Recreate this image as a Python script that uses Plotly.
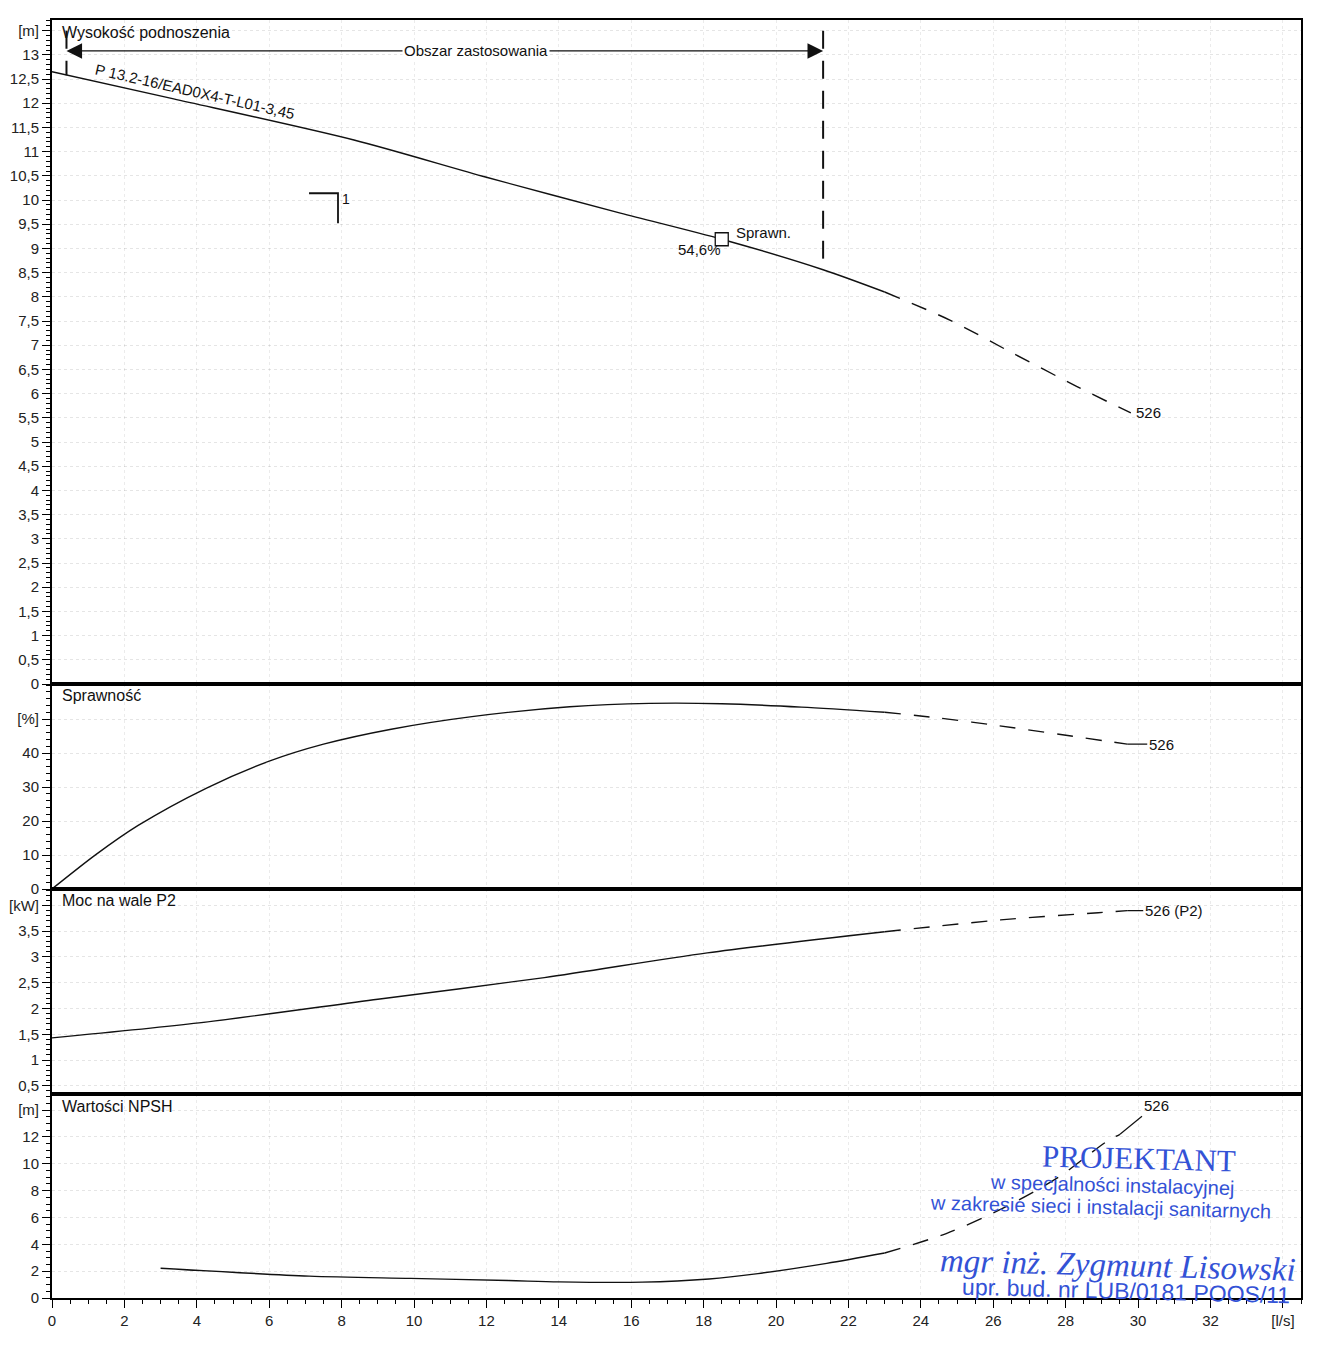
import plotly.graph_objects as go
from plotly.subplots import make_subplots

# ---------------- data ----------------
# Head curve  (Q [l/s], H [m])
q_head = [0.0, 3.36, 8.34, 12.0, 15.7, 18.5, 21.3, 23.0, 24.8, 26.5, 28.3, 29.8]
h_head = [12.65, 12.09, 11.24, 10.47, 9.73, 9.19, 8.56, 8.10, 7.52, 6.85, 6.15, 5.60]

# Efficiency curve (Q, %)
q_eff = [0.0, 1.21, 2.38, 4.27, 6.0, 7.5, 9.37, 11.6, 14.3, 16.5, 18.5, 20.7, 23.0, 24.5, 25.9, 29.7]
eff = [0.0, 10.1, 18.7, 29.7, 37.6, 42.6, 47.0, 50.7, 53.6, 54.6, 54.5, 53.5, 52.0, 50.3, 48.4, 42.6]

# Shaft power P2 (Q, kW)
q_pow = [0.0, 4.06, 9.0, 13.6, 18.1, 23.0, 26.2, 28.9, 29.7]
p2 = [1.43, 1.72, 2.18, 2.60, 3.08, 3.49, 3.72, 3.86, 3.90]

# NPSH (Q, m)
q_npsh = [3.0, 7.1, 9.9, 12.6, 14.0, 16.3, 18.15, 19.5, 21.4, 23.0, 24.7, 26.2, 27.8, 29.1, 29.5]
npsh = [2.22, 1.63, 1.46, 1.30, 1.20, 1.18, 1.42, 1.82, 2.58, 3.35, 4.8, 6.6, 9.0, 11.6, 12.2]

q_solid_end = 23.0            # curves are solid up to here, dashed beyond
app_limit_q = [0.4, 21.3]     # "Obszar zastosowania" limits
app_limit_h = [12.58, 8.56]   # head at the limits
app_top_h = 13.5
app_arrow_h = 13.08
bep_q, bep_h, bep_eff = 18.5, 9.19, 54.6
duty_q, duty_h = 7.9, 10.14
curve_name = "526"
pump_label = "P 13.2-16/EAD0X4-T-L01-3,45"

# ticks
def fmt(v):
    return f"{v:g}".replace(".", ",")

head_tickvals = [i * 0.5 for i in range(27)] + [13.5]
head_ticktext = [fmt(v) for v in head_tickvals[:-1]] + ["[m]"]
eff_tickvals = [0, 10, 20, 30, 40, 50]
eff_ticktext = ["0", "10", "20", "30", "40", "[%]"]
pow_tickvals = [0.5, 1, 1.5, 2, 2.5, 3, 3.5, 4]
pow_ticktext = ["0,5", "1", "1,5", "2", "2,5", "3", "3,5", "[kW]"]
npsh_tickvals = [0, 2, 4, 6, 8, 10, 12, 14]
npsh_ticktext = ["0", "2", "4", "6", "8", "10", "12", "[m]"]
x_tickvals = list(range(0, 34, 2)) + [34]
x_ticktext = [str(v) for v in range(0, 34, 2)] + ["[l/s]"]

titles = ["Wysokość podnoszenia", "Sprawność", "Moc na wale P2", "Wartości NPSH"]

# ---------------- figure ----------------
# page has an 8px body margin, so the figure is drawn 8px right/down
W, H = 1320, 1338
ML, MR, MT, MB = 44, 27, 12, 48
PLOT_LEFT_PAGE, PLOT_BOTTOM_PAGE = 52, 1298
PLOT_W, PLOT_H = W - ML - MR, H - MT - MB
FONT = "Liberation Sans, Arial, sans-serif"
INK = "#111111"

fig = make_subplots(rows=4, cols=1, shared_xaxes=True, vertical_spacing=0,
                    row_heights=[664, 205, 205, 204])


def split(q, v):
    s = [(a, b) for a, b in zip(q, v) if a <= q_solid_end]
    d = [(a, b) for a, b in zip(q, v) if a >= q_solid_end]
    return s, d


for row, (q, v) in enumerate([(q_head, h_head), (q_eff, eff), (q_pow, p2), (q_npsh, npsh)], start=1):
    s, d = split(q, v)
    fig.add_trace(go.Scatter(x=[a for a, _ in s], y=[b for _, b in s], mode="lines",
                             line=dict(color=INK, width=1.4, shape="spline", smoothing=0.8),
                             showlegend=False, hoverinfo="skip"), row=row, col=1)
    fig.add_trace(go.Scatter(x=[a for a, _ in d], y=[b for _, b in d], mode="lines",
                             line=dict(color=INK, width=1.4, shape="spline", smoothing=0.8,
                                       dash="16px,13px"),
                             showlegend=False, hoverinfo="skip"), row=row, col=1)

# application-range limit lines
for qv, hv in zip(app_limit_q, app_limit_h):
    fig.add_trace(go.Scatter(x=[qv, qv], y=[app_top_h, hv], mode="lines",
                             line=dict(color=INK, width=2, dash="18px,12px"),
                             showlegend=False, hoverinfo="skip"), row=1, col=1)

# duty point marker "1"
fig.add_trace(go.Scatter(x=[duty_q - 0.8, duty_q, duty_q], y=[duty_h, duty_h, duty_h - 0.62],
                         mode="lines", line=dict(color=INK, width=1.8),
                         showlegend=False, hoverinfo="skip"), row=1, col=1)

# BEP square
fig.add_trace(go.Scatter(x=[bep_q], y=[bep_h], mode="markers",
                         marker=dict(symbol="square", size=13, color="white",
                                     line=dict(color=INK, width=1.3)),
                         showlegend=False, hoverinfo="skip"), row=1, col=1)

ranges = [[0, 13.72], [0, 60.3], [0.34, 4.32], [0, 15.2]]
ticks = [(head_tickvals, head_ticktext, 0.1), (eff_tickvals, eff_ticktext, 2),
         (pow_tickvals, pow_ticktext, 0.1), (npsh_tickvals, npsh_ticktext, 0.5)]
for row in range(1, 5):
    tv, tt, mdt = ticks[row - 1]
    fig.update_yaxes(row=row, col=1, range=ranges[row - 1], tickmode="array",
                     tickvals=tv, ticktext=tt, ticks="outside", ticklen=8, tickwidth=1.2,
                     tickcolor="black", showline=True, mirror=True, linecolor="black",
                     linewidth=2, showgrid=True, gridcolor="rgba(0,0,0,0.10)",
                     griddash="dot", zeroline=False, automargin=False,
                     tickfont=dict(family=FONT, size=15, color="#222"),
                     minor=dict(dtick=mdt, tick0=0, ticks="outside", ticklen=4,
                                tickcolor="black", tickwidth=1, showgrid=False))
    fig.update_xaxes(row=row, col=1, range=[0, 34.5], showline=True, mirror=True,
                     linecolor="black", linewidth=2, zeroline=False, automargin=False,
                     showgrid=True, gridcolor="rgba(0,0,0,0.08)", griddash="dot",
                     tickmode="array", tickvals=x_tickvals, ticktext=x_ticktext,
                     ticks="outside" if row == 4 else "", showticklabels=(row == 4),
                     ticklen=8, tickwidth=1.2, tickcolor="black",
                     tickfont=dict(family=FONT, size=15, color="#222"),
                     minor=dict(dtick=0.5, tick0=0, ticks="outside" if row == 4 else "",
                                ticklen=4, tickcolor="black", showgrid=False))

annotations = []
# panel titles
for i, t in enumerate(titles):
    ya = "yaxis" if i == 0 else f"yaxis{i + 1}"
    top = fig.layout[ya].domain[1]
    annotations.append(dict(text=t, xref="paper", yref="paper", x=0, y=top,
                            xanchor="left", yanchor="middle", xshift=8, yshift=-12,
                            showarrow=False, font=dict(family=FONT, size=16, color="#111")))

# pump label along the head curve
annotations.append(dict(text=pump_label, xref="x", yref="y", x=3.96, y=12.25,
                        textangle=12.8, showarrow=False,
                        font=dict(family=FONT, size=15, color="#111")))

# application range arrows
mid = sum(app_limit_q) / 2
for head_x in app_limit_q:
    annotations.append(dict(text="", xref="x", yref="y", axref="x", ayref="y",
                            x=head_x, y=app_arrow_h, ax=mid, ay=app_arrow_h,
                            showarrow=True, arrowhead=2, arrowsize=2.4, arrowwidth=1.3,
                            arrowcolor=INK, standoff=0, startstandoff=0))
annotations.append(dict(text="Obszar zastosowania", xref="x", yref="y", x=11.7, y=app_arrow_h,
                        showarrow=False, bgcolor="white", borderpad=1,
                        font=dict(family=FONT, size=15, color="#111")))

# duty point label
annotations.append(dict(text="1", xref="x", yref="y", x=duty_q, y=duty_h, xanchor="left",
                        yanchor="top", xshift=2, yshift=4, showarrow=False,
                        font=dict(family=FONT, size=14, color="#111")))

# BEP labels
annotations.append(dict(text="Sprawn.", xref="x", yref="y", x=bep_q, y=bep_h, xanchor="left",
                        yanchor="middle", xshift=12, yshift=7, showarrow=False,
                        font=dict(family=FONT, size=15, color="#111")))
annotations.append(dict(text=fmt(bep_eff) + "%", xref="x", yref="y", x=bep_q, y=bep_h,
                        xanchor="right", yanchor="middle", xshift=1, yshift=-10,
                        showarrow=False, font=dict(family=FONT, size=15, color="#111")))

# curve end labels
annotations.append(dict(text=curve_name, xref="x", yref="y", x=q_head[-1], y=h_head[-1],
                        xanchor="left", yanchor="middle", xshift=3, showarrow=False,
                        font=dict(family=FONT, size=15, color="#111")))
annotations.append(dict(text=curve_name, xref="x2", yref="y2", x=q_eff[-1], y=eff[-1],
                        ax=20, ay=0, showarrow=True, arrowhead=0, arrowwidth=1.3,
                        arrowcolor=INK, xanchor="left",
                        font=dict(family=FONT, size=15, color="#111")))
annotations.append(dict(text=curve_name + " (P2)", xref="x3", yref="y3", x=q_pow[-1], y=p2[-1],
                        ax=16, ay=0, showarrow=True, arrowhead=0, arrowwidth=1.3,
                        arrowcolor=INK, xanchor="left",
                        font=dict(family=FONT, size=15, color="#111")))
annotations.append(dict(text=curve_name, xref="x4", yref="y4", x=q_npsh[-1], y=npsh[-1],
                        ax=22, ay=-18, showarrow=True, arrowhead=0, arrowwidth=1.2,
                        arrowcolor=INK, xanchor="left", yanchor="bottom",
                        font=dict(family=FONT, size=15, color="#111")))

# designer's stamp (blue text), positions in page pixels
BLUE = "#3352d6"
def px2paper(px, py):
    return (px - PLOT_LEFT_PAGE) / PLOT_W, (PLOT_BOTTOM_PAGE - py) / PLOT_H

stamp = [
    ("PROJEKTANT", 1040, 1158, "Liberation Serif, serif", 31, False),
    ("w specjalności instalacyjnej", 988, 1185, FONT, 20, False),
    ("w zakresie sieci i instalacji sanitarnych", 928, 1207, FONT, 20, False),
    ("mgr inż. Zygmunt Lisowski", 938, 1265, "Liberation Serif, serif", 33, True),
    ("upr. bud. nr LUB/0181 POOS/11", 960, 1291, FONT, 23, False),
]
for text, px, py, fam, size, ital in stamp:
    xp, yp = px2paper(px, py)
    annotations.append(dict(text=f"<i>{text}</i>" if ital else text, xref="paper", yref="paper",
                            x=xp, y=yp, xanchor="left", yanchor="middle", textangle=1.5,
                            showarrow=False, font=dict(family=fam, size=size, color=BLUE)))

fig.update_layout(width=W, height=H, margin=dict(l=ML, r=MR, t=MT, b=MB),
                  paper_bgcolor="white", plot_bgcolor="white", showlegend=False,
                  annotations=annotations, font=dict(family=FONT))

fig.write_html("out.html")
